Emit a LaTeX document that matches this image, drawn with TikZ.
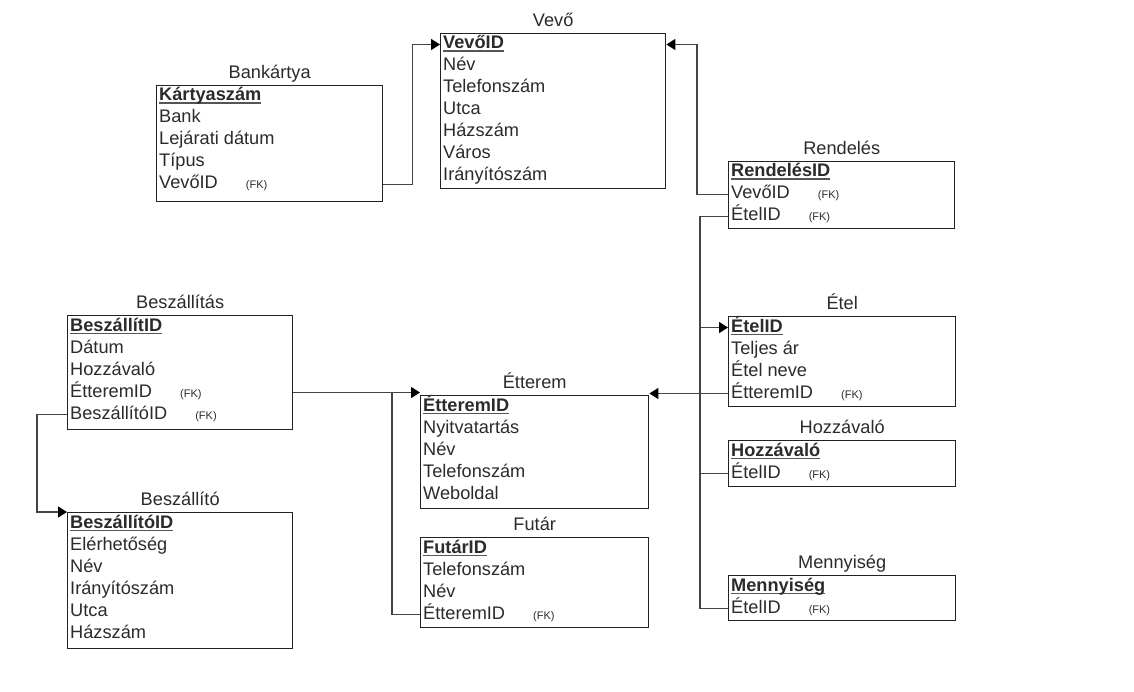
\documentclass[tikz,border=0pt]{standalone}
\usepackage{fontspec}
\setmainfont{Liberation Sans}
\usetikzlibrary{arrows.meta,calc}
\definecolor{ink}{HTML}{2B2B2B}
\definecolor{edge}{HTML}{222222}
\definecolor{wire}{HTML}{444444}
\definecolor{uline}{HTML}{555555}
\newcommand\rowfont{\fontsize{18.2}{21}\selectfont}
\newcommand\fkmark{\hspace{28pt}{\fontsize{11}{12}\selectfont(FK)}}
\newcommand\pkey[1]{\setbox0\hbox{\textbf{#1}}\rlap{\textcolor{uline}{\rule[-3.2pt]{\wd0}{1.7pt}}}\box0}
\tikzset{
  tbox/.style={draw=edge, line width=1.4pt, anchor=north west, inner sep=0pt},
  ttl/.style={text=ink, font=\rowfont, inner sep=0pt, text height=13pt, text depth=4pt, anchor=center},
  attr/.style={text=ink, font=\rowfont, anchor=west, inner xsep=3pt, inner ysep=0pt, text height=13pt, text depth=4pt},
  conn/.style={draw=wire, line width=1.5pt},
  tip/.style={-{Triangle[length=9pt,width=11pt,color=black]}},
}
\newcommand\tablebox[6]{%
  \node[tbox, minimum width=#3, minimum height=#4] (#1) at (#2) {};
  \node[ttl] (#1-t) at ([yshift=11pt]#1.north) {#5};
  \foreach \t [count=\i] in {#6} {\node[attr] (#1-\i) at ([yshift={-11.5pt-22pt*(\i-1)}]#1.north west) {\t};}
}
\begin{document}
\begin{tikzpicture}[x=1pt,y=-1pt]
\useasboundingbox[fill=white] (0,0) rectangle (1134,692);
\tablebox{vevo}{440,33}{225}{155}{Vevő}{\pkey{VevőID},Név,Telefonszám,Utca,Házszám,Város,Irányítószám}
\tablebox{bank}{156,85}{226}{116}{Bankártya}{\pkey{Kártyaszám},Bank,Lejárati dátum,Típus,VevőID\fkmark}
\tablebox{rend}{728,161}{226}{67}{Rendelés}{\pkey{RendelésID},VevőID\fkmark,ÉtelID\fkmark}
\tablebox{etel}{728,316}{227}{90}{Étel}{\pkey{ÉtelID},Teljes ár,Étel neve,ÉtteremID\fkmark}
\tablebox{hozz}{728,440}{227}{46}{Hozzávaló}{\pkey{Hozzávaló},ÉtelID\fkmark}
\tablebox{menny}{728,575}{227}{45}{Mennyiség}{\pkey{Mennyiség},ÉtelID\fkmark}
\tablebox{ett}{420,395}{228}{113}{Étterem}{\pkey{ÉtteremID},Nyitvatartás,Név,Telefonszám,Weboldal}
\tablebox{fut}{420,537}{228}{90}{Futár}{\pkey{FutárID},Telefonszám,Név,ÉtteremID\fkmark}
\tablebox{besz}{67,315}{225}{114}{Beszállítás}{\pkey{BeszállítID},Dátum,Hozzávaló,ÉtteremID\fkmark,BeszállítóID\fkmark}
\tablebox{beszo}{67,512}{225}{136}{Beszállító}{\pkey{BeszállítóID},Elérhetőség,Név,Irányítószám,Utca,Házszám}
% connectors
\draw[conn,tip] (bank-5 -| bank.east) -- ++(29,0) |- (vevo-1.west);
\draw[conn,tip] (rend-2.west) -- ++(-31,0) |- (vevo-1 -| vevo.east);
\draw[conn] (rend-3.west) -- ++(-28,0) coordinate (ej) |- (menny-2.west);
\draw[conn,tip] (ej) |- (etel-1.west);
\draw[conn] (ej) |- (hozz-2.west);
\draw[conn,tip] (etel-4.west) -- (etel-4.west -| ett.east);
\draw[conn,tip] (besz-4 -| besz.east) -- (besz-4 -| ett.west);
\draw[conn] (fut-4.west) -- ++(-28,0) coordinate (fj) -- (fj |- besz-4);
\draw[conn,tip] (besz-5.west) -- ++(-30,0) |- (beszo.north west);
\end{tikzpicture}
\end{document}
